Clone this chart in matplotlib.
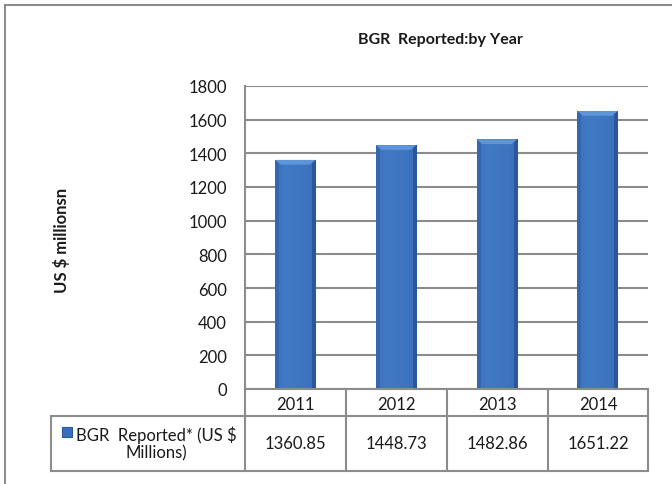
import matplotlib
matplotlib.use("Agg")
import matplotlib.pyplot as plt
import numpy as np
from matplotlib.lines import Line2D
from matplotlib.patches import Rectangle, Polygon

years = ["2011", "2012", "2013", "2014"]
values = [1360.85, 1448.73, 1482.86, 1651.22]
value_labels = ["1360.85", "1448.73", "1482.86", "1651.22"]
yticks = [0, 200, 400, 600, 800, 1000, 1200, 1400, 1600, 1800]
title = "BGR  Reported:by Year"
ylabel = "US $ millionsn"
series_label = "BGR  Reported* (US $\nMillions)"

plt.rcParams['font.family'] = ['Lato', 'DejaVu Sans']

W, H = 672, 485
fig = plt.figure(figsize=(W / 100, H / 100), dpi=100)
fig.patch.set_facecolor("white")

def fx(px):
    return px / W

def fy(py):
    return 1 - py / H

GRAY = "#8c8c8c"
TXT = "#1a1a1a"

# outer frame
fig.add_artist(Line2D([fx(5), fx(5)], [fy(6), fy(485)], color=GRAY, lw=1.5))
fig.add_artist(Line2D([fx(5), fx(672)], [fy(6), fy(6)], color=GRAY, lw=1.5))

L, R, T, B = 245, 648, 87, 390
ax = fig.add_axes([fx(L), fy(B), fx(R) - fx(L), fy(T) - fy(B)])
x = np.arange(len(years))
ax.set_xlim(-0.5, len(years) - 0.5)
ax.set_ylim(0, 1800)
ax.set_yticks(yticks)
ax.set_yticklabels([str(t) for t in yticks], fontsize=12, color=TXT)
ax.set_xticks([])
ax.tick_params(axis="y", length=0, pad=13)
for s in ["top", "right", "bottom"]:
    ax.spines[s].set_visible(False)
ax.spines["left"].set_color(GRAY)
ax.spines["left"].set_linewidth(1.5)
ax.yaxis.grid(True, color=GRAY, lw=1.5)
ax.set_axisbelow(True)

bw = 0.4
bars = ax.bar(x, values, width=bw, color="#3a6fbb", edgecolor="none", zorder=2)
grad = np.array([0.70, 0.88, 0.93, 0.93, 0.92, 0.9, 0.88, 0.85, 0.78, 0.6])
cm = matplotlib.colors.LinearSegmentedColormap.from_list(
    "b", ["#24508f", "#3a6fbb", "#4279c4"])
for xi, v, b in zip(x, values, bars):
    im = ax.imshow(grad[np.newaxis, :], extent=[xi - bw / 2, xi + bw / 2, 0, v],
                   aspect="auto", cmap=cm, vmin=0.55, vmax=0.95, zorder=3)
    im.set_clip_path(b)
    d = 28
    dx = 0.055
    ax.add_patch(Polygon([[xi - bw / 2, v], [xi + bw / 2, v],
                          [xi + bw / 2 - dx, v - d], [xi - bw / 2 + dx, v - d]],
                         closed=True, facecolor="#5e95da", edgecolor="none", zorder=4))
ax.set_aspect("auto")
ax.set_xlim(-0.5, len(years) - 0.5)
ax.set_ylim(0, 1800)

# title and y label
fig.text(fx(440), fy(40), title, ha="center", va="center", fontsize=11.5,
         fontweight="bold", color=TXT)
fig.text(fx(62), fy(240), ylabel, ha="center", va="center", rotation=90,
         fontsize=12, fontweight="bold", color=TXT)

# data table
row1_top, row1_bot, row2_bot = 390, 417, 472
tab_left = 51
col_edges = [245, 346, 447, 548, 648]
lw = 1.5
fig.add_artist(Line2D([fx(L), fx(R)], [fy(row1_top), fy(row1_top)], color=GRAY, lw=lw))
fig.add_artist(Line2D([fx(tab_left), fx(R)], [fy(row1_bot), fy(row1_bot)], color=GRAY, lw=lw))
fig.add_artist(Line2D([fx(tab_left), fx(R)], [fy(row2_bot), fy(row2_bot)], color=GRAY, lw=lw))
for ce in col_edges:
    fig.add_artist(Line2D([fx(ce), fx(ce)], [fy(row1_top), fy(row2_bot)], color=GRAY, lw=lw))
fig.add_artist(Line2D([fx(tab_left), fx(tab_left)], [fy(row1_bot), fy(row2_bot)], color=GRAY, lw=lw))

for i, (yr, vl) in enumerate(zip(years, value_labels)):
    cx = (col_edges[i] + col_edges[i + 1]) / 2
    fig.text(fx(cx), fy((row1_top + row1_bot) / 2 + 1), yr, ha="center", va="center",
             fontsize=12, color=TXT)
    fig.text(fx(cx), fy((row1_bot + row2_bot) / 2), vl, ha="center", va="center",
             fontsize=12, color=TXT)

# legend key
fig.add_artist(Rectangle((fx(62), fy(438)), fx(72) - fx(62), fy(428) - fy(438),
                         transform=fig.transFigure, facecolor="#3a6fbb",
                         edgecolor="#2a5a9c", lw=0.8))
fig.text(fx(156), fy(444), series_label, ha="center", va="center", fontsize=12,
         linespacing=1.15, color=TXT)

fig.savefig("out.png", dpi=100, facecolor="white")
